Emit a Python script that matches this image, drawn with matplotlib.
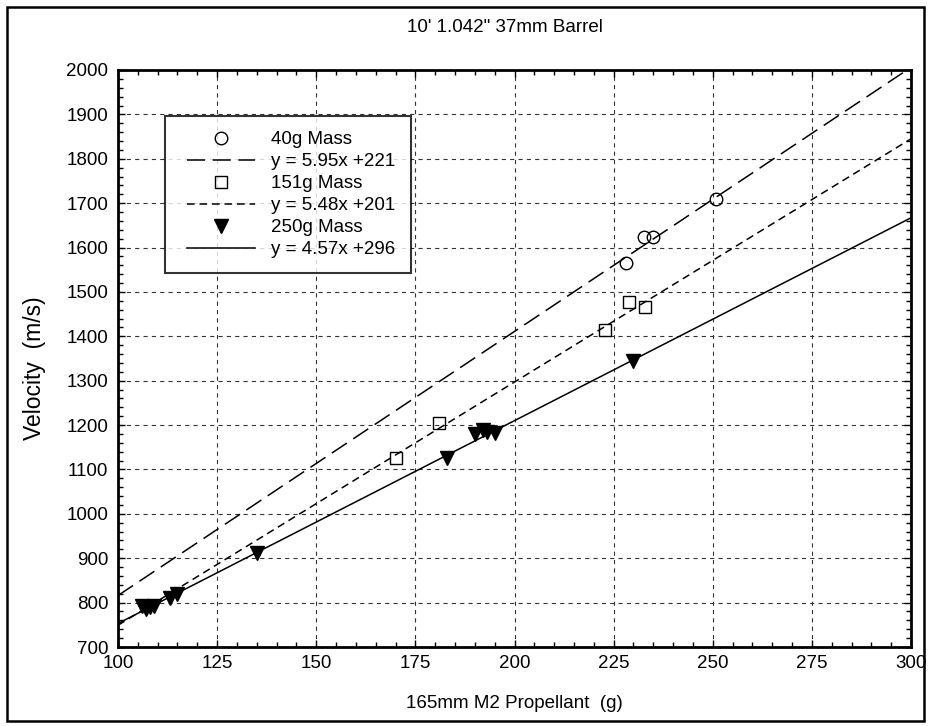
import numpy as np
import matplotlib.pyplot as plt
from matplotlib.lines import Line2D
from matplotlib.patches import Rectangle
from matplotlib.legend_handler import HandlerLine2D

plt.rcParams['font.family'] = ['Liberation Sans', 'DejaVu Sans']
plt.rcParams['lines.scale_dashes'] = False

# data
x40 = [228, 232.7, 235, 250.8]
v40 = [1565, 1623, 1623, 1710]
x151 = [170, 181, 222.8, 228.9, 232.9]
v151 = [1125, 1205, 1415, 1478, 1467]
x250 = [106, 107, 108, 109, 113, 115, 135, 183, 190, 192, 193, 195, 230]
v250 = [792, 785, 790, 793, 810, 820, 912, 1125, 1180, 1188, 1185, 1182, 1344]

fits = [(5.95, 221), (5.48, 201), (4.57, 296)]
fit_labels = ['y = 5.95x +221', 'y = 5.48x +201', 'y = 4.57x +296']
mass_labels = ['40g Mass', '151g Mass', '250g Mass']

fs = 13.5


class ShiftedHandler(HandlerLine2D):
    # push legend handles a bit to the right inside their box
    shift = 5.0

    def create_artists(self, legend, orig_handle, xdescent, ydescent, width, height, fontsize, trans):
        return super().create_artists(legend, orig_handle, xdescent - self.shift, ydescent,
                                      width - self.shift, height, fontsize, trans)


fig = plt.figure(figsize=(9.31, 7.26), dpi=100)
ax = fig.add_axes([118/931, 1 - 647/726, (911-118)/931, (647-70)/726])

xx = np.array([100, 300])
long_dash = (0, (13, 5.5))
short_dash = (0, (5.5, 3.5))
styles = [long_dash, short_dash, '-']

for (m, b), ls in zip(fits, styles):
    ax.plot(xx, m*xx + b, color='black', lw=1.1, linestyle=ls, zorder=3)

ax.plot(x40, v40, 'o', mfc='none', mec='black', ms=9, mew=1.0, zorder=4)
ax.plot(x151, v151, 's', mfc='none', mec='black', ms=8.5, mew=1.0, zorder=4)
ax.plot(x250, v250, 'v', color='black', ms=9.5, zorder=4)

ax.set_xlim(100, 300)
ax.set_ylim(700, 2000)
ax.set_xticks(np.arange(100, 301, 25))
ax.set_yticks(np.arange(700, 2001, 100))
ax.set_xticks(np.arange(100, 301, 5), minor=True)
ax.set_yticks(np.arange(700, 2001, 20), minor=True)
ax.tick_params(which='both', direction='in', top=True, right=True, labelsize=fs, width=1)
ax.tick_params(which='major', length=5)
ax.tick_params(axis='y', which='major', pad=7)
ax.tick_params(axis='x', which='major', pad=6)
ax.tick_params(which='minor', length=3.5)
for s in ax.spines.values():
    s.set_linewidth(2)
ax.grid(True, which='major', color='#333333', linestyle=(0, (3, 3)), lw=0.8)
ax.set_axisbelow(True)

handles = [
    Line2D([], [], marker='o', ls='none', mfc='none', mec='black', ms=9),
    Line2D([], [], color='black', lw=1.1, ls=long_dash),
    Line2D([], [], marker='s', ls='none', mfc='none', mec='black', ms=8.5),
    Line2D([], [], color='black', lw=1.1, ls=short_dash),
    Line2D([], [], marker='v', ls='none', color='black', ms=9.5),
    Line2D([], [], color='black', lw=1.1, ls='-'),
]
labels = [mass_labels[0], fit_labels[0], mass_labels[1], fit_labels[1], mass_labels[2], fit_labels[2]]
leg = ax.legend(handles, labels, loc='upper left', bbox_to_anchor=((165-118)/793, (647-116)/577),
                fontsize=fs, frameon=True, fancybox=False, handlelength=4.02, handletextpad=0.85,
                labelspacing=0.26, borderpad=0.8, borderaxespad=0,
                handler_map={Line2D: ShiftedHandler()})
leg.get_frame().set_edgecolor('black')
leg.get_frame().set_linewidth(1.5)
leg.set_zorder(5)

fig.text(505/931, 1 - 28/726, '10\' 1.042" 37mm Barrel', ha='center', va='center', fontsize=fs)
fig.text(514/931, 1 - 704/726, '165mm M2 Propellant  (g)', ha='center', va='center', fontsize=fs)
fig.text(34/931, 1 - 368/726, 'Velocity  (m/s)', ha='center', va='center', rotation=90, fontsize=16.5)

fig.patches.append(Rectangle((7/931, 5/726), 917/931, 714/726, transform=fig.transFigure,
                             fill=False, edgecolor='black', lw=1.8))

fig.savefig('out.png', dpi=100)
